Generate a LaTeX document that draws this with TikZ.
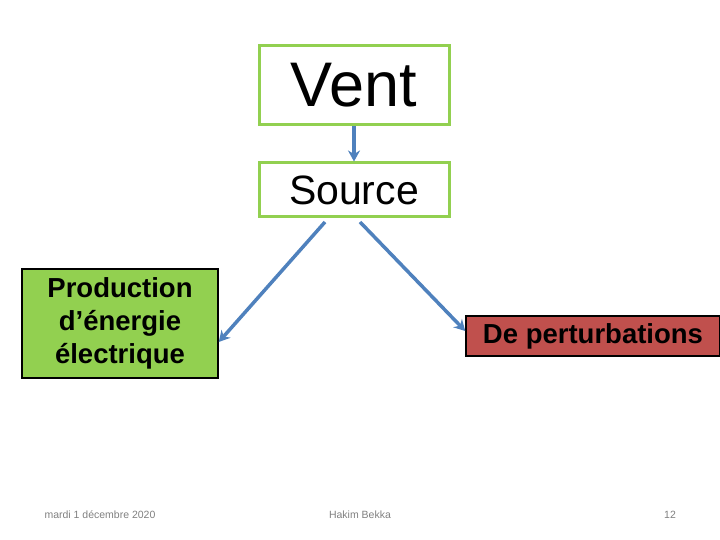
\documentclass[tikz,border=0pt]{standalone}
\usepackage{fontspec}
\setmainfont{Liberation Sans}
\usetikzlibrary{arrows.meta}
\definecolor{lgreen}{HTML}{92D050}
\definecolor{dred}{HTML}{C0504D}
\definecolor{ablue}{HTML}{4F81BD}
\begin{document}
\begin{tikzpicture}[x=1pt,y=-1pt,
  conn/.style={ablue,line width=3.5pt,-{Stealth[length=11pt,width=12pt]}},
  foot/.style={text=gray,font=\fontsize{10.5}{12}\selectfont}]
\useasboundingbox (0,0) rectangle (720,540);
\node[draw=lgreen,line width=3pt,minimum width=190pt,minimum height=79pt,font=\fontsize{63}{70}\selectfont] (vent) at (354,85) {Vent};
\node[draw=lgreen,line width=3pt,minimum width=190pt,minimum height=54pt,font=\fontsize{41}{46}\selectfont] (src) at (354,190) {Source};
\node[draw=black,fill=lgreen,line width=1.5pt,minimum width=196pt,minimum height=109pt,align=center,inner sep=0pt,font=\bfseries\fontsize{27.5}{33}\selectfont] (prod) at (120,323.5) {Production\\d’énergie\\électrique};
\node[draw=black,fill=dred,line width=1.5pt,minimum width=254pt,minimum height=40pt,inner sep=0pt,font=\bfseries\fontsize{27.5}{30}\selectfont] (pert) at (593,336) {De perturbations};
\draw[conn] (vent.south) -- (src.north);
\coordinate (s1) at (325,222);
\coordinate (s2) at (360,222);
\draw[conn] (s1) -- (prod.east |- 0,342);
\draw[conn] (s2) -- (pert.west |- 0,331);
\node[foot] (d) at (100,515) {mardi 1 décembre 2020};
\node[foot] (h) at (360,515) {Hakim Bekka};
\node[foot] (n) at (670,515) {12};
\end{tikzpicture}
\end{document}
